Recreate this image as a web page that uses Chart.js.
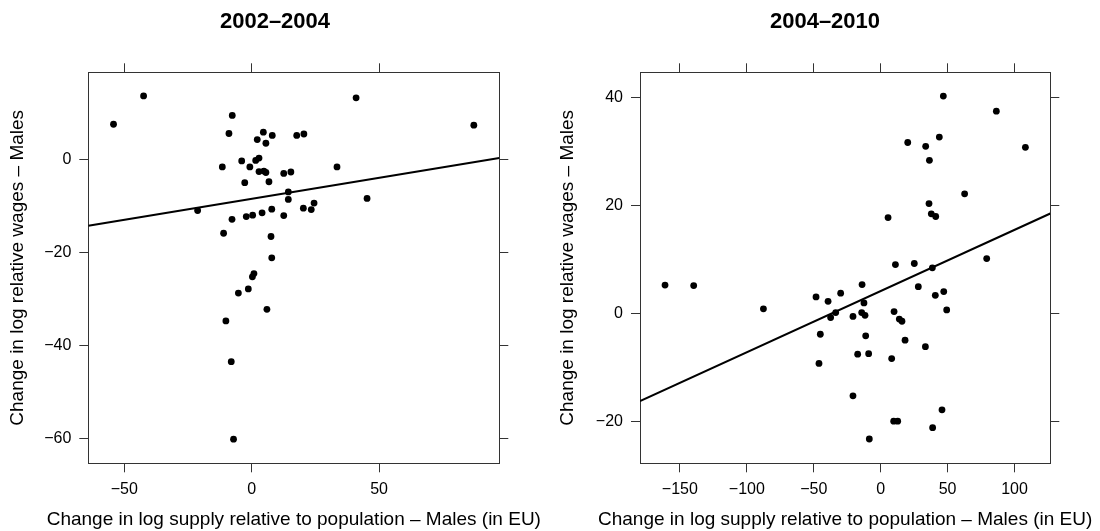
<!DOCTYPE html>
<html>
<head>
<meta charset="utf-8">
<script src="https://cdn.jsdelivr.net/npm/chart.js@4"></script>
<style>
  html, body { margin: 0; padding: 0; background: #fff; }
  #wrap { position: relative; width: 1100px; height: 531px; }
  .panel { position: absolute; top: 0; width: 550px; height: 531px; }
</style>
</head>
<body>
<div id="wrap">
  <div class="panel" style="left:0"><canvas id="left" width="550" height="531"></canvas></div>
  <div class="panel" style="left:550px"><canvas id="right" width="550" height="531"></canvas></div>
</div>
<script>
// 2002-2004 panel
const supply0204 = [-54.2, -42.4, -7.6, -8.9, 4.6, 8.1, 2.2, 5.6, 17.7, 20.5, 41.0, 87.2, -3.9, 1.6, 2.9,
  -11.5, -0.7, 2.9, 4.8, 5.6, 12.6, 15.4, 33.5, -2.7, 6.8, 14.4, 14.4, 45.3, -21.2, -7.7, -2.1, 0.4,
  4.1, 7.9, 12.6, 20.3, 23.4, 24.5, -11.0, 7.6, 7.9, 0.9, 0.3, -1.3, -5.2, 6.0, -10.1, -8.0, -7.1];
const wages0204 = [7.7, 13.8, 9.6, 5.7, 6.0, 5.3, 4.4, 3.6, 5.3, 5.6, 13.4, 7.5, -0.2, -0.1, 0.4,
  -1.5, -1.5, -2.5, -2.4, -2.7, -2.9, -2.6, -1.5, -4.9, -4.7, -6.9, -8.5, -8.3, -10.9, -12.8, -12.2, -11.9,
  -11.4, -10.6, -12.0, -10.4, -10.7, -9.3, -15.8, -16.5, -21.1, -24.5, -25.2, -27.8, -28.7, -32.2, -34.7, -43.5, -60.2];
const fit0204 = [-8.4, 0.0906];          // intercept, slope
const xTicks0204 = [-50, 0, 50];
const yTicks0204 = [-60, -40, -20, 0];
const xRange0204 = [-64.1, 97.2];
const yRange0204 = [-65.4, 18.9];

// 2004-2010 panel
const supply0410 = [-161.1, -139.7, -87.6, -48.3, -39.3, -29.9, -37.4, -33.6, -45.1, -46.1, -20.7, -13.9,
  -12.5, -14.2, -11.7, -11.2, -17.2, -9.0, -20.7, -8.5, 5.5, 11.0, 25.1, 10.0, 13.9, 15.9, 28.1, 18.2, 8.2,
  33.4, 9.7, 12.7, 38.8, 45.8, 20.2, 33.6, 43.8, 46.8, 36.4, 36.1, 37.8, 41.1, 38.6, 40.8, 47.1, 49.3,
  62.7, 79.2, 86.4, 108.1];
const wages0410 = [5.3, 5.2, 0.9, 3.1, 2.3, 3.8, -0.7, 0.2, -3.8, -9.2, -0.5, 5.4,
  2.0, 0.2, -0.3, -4.1, -7.5, -7.4, -15.2, -23.2, 17.8, 9.1, 9.3, 0.4, -1.0, -1.4, 5.0, -4.9, -8.3,
  -6.1, -19.9, -19.9, -21.1, -17.8, 31.7, 31.0, 32.7, 40.3, 28.4, 20.4, 18.5, 18.0, 8.5, 3.4, 4.1, 0.7,
  22.2, 10.2, 37.5, 30.8];
const fit0410 = [4.19, 0.1134];
const xTicks0410 = [-150, -100, -50, 0, 50, 100];
const yTicks0410 = [-20, 0, 20, 40];
const xRange0410 = [-179.8, 126.7];
const yRange0410 = [-27.7, 44.7];

const xLabel = "Change in log supply relative to population \u2013 Males (in EU)";
const yLabel = "Change in log relative wages \u2013 Males";

const FONT = '"Liberation Sans", Arial, Helvetica, sans-serif';
Chart.defaults.font.family = FONT;
Chart.defaults.color = "#000";

const fmt = (v) => (v < 0 ? "\u2212" + Math.abs(v) : String(v));

// the x title is wider than the plot, Chart.js would squeeze it, so draw it here
const xLabelPlugin = {
  id: "xLabel",
  afterDraw(chart, args, opts) {
    const { ctx, chartArea } = chart;
    ctx.save();
    ctx.font = "19px " + FONT;
    ctx.fillStyle = "#000";
    ctx.textAlign = "center";
    ctx.textBaseline = "middle";
    ctx.fillText(opts.text, (chartArea.left + chartArea.right) / 2, chart.height - 11.4);
    ctx.restore();
  }
};

function axis(pos, range, ticks, size, showLabels, titleText) {
  const horiz = pos === "top" || pos === "bottom";
  return {
    type: "linear",
    position: pos,
    min: range[0],
    max: range[1],
    afterBuildTicks: (s) => { s.ticks = ticks.map((v) => ({ value: v })); },
    grid: { drawOnChartArea: false, drawTicks: true, tickLength: 9, color: "#333", lineWidth: 1 },
    border: { display: true, color: "#333", width: 1 },
    ticks: { display: showLabels, font: { size: 16 }, padding: 8, maxRotation: 0, autoSkip: false, callback: fmt },
    title: {
      display: !!titleText,
      text: titleText || "",
      font: { size: 19 },
      padding: { top: 6.6, bottom: 0 }
    },
    afterFit: (s) => { if (horiz) s.height = size; else s.width = size; }
  };
}

function makePanel(id, title, xs, ys, fit, xTicks, yTicks, xRange, yRange, leftW, rightW) {
  const pts = xs.map((x, i) => ({ x: x, y: ys[i] }));
  const line = xRange.map((x) => ({ x: x, y: fit[0] + fit[1] * x }));
  new Chart(document.getElementById(id), {
    type: "scatter",
    data: {
      datasets: [
        { data: pts, pointRadius: 3.4, pointHoverRadius: 3.4, backgroundColor: "#000", borderWidth: 0 },
        { data: line, showLine: true, borderColor: "#000", borderWidth: 2, pointRadius: 0, fill: false }
      ]
    },
    plugins: [xLabelPlugin],
    options: {
      responsive: false,
      animation: false,
      devicePixelRatio: 1,
      layout: { padding: 0 },
      scales: {
        x: axis("bottom", xRange, xTicks, 531 - 463.3, true, null),
        x2: axis("top", xRange, xTicks, 72.3 - 35.4, false, null),
        y: axis("left", yRange, yTicks, leftW, true, yLabel),
        y2: axis("right", yRange, yTicks, rightW, false, null)
      },
      plugins: {
        legend: { display: false },
        tooltip: { enabled: false },
        xLabel: { text: xLabel },
        title: { display: true, text: title, font: { size: 22, weight: "bold" }, padding: { top: 9, bottom: 0 }, color: "#000" }
      }
    }
  });
}

makePanel("left", "2002\u20132004", supply0204, wages0204, fit0204, xTicks0204, yTicks0204, xRange0204, yRange0204, 88.3, 550 - 499.3);
makePanel("right", "2004\u20132010", supply0410, wages0410, fit0410, xTicks0410, yTicks0410, xRange0410, yRange0410, 90, 550 - 500.3);
</script>
</body>
</html>
